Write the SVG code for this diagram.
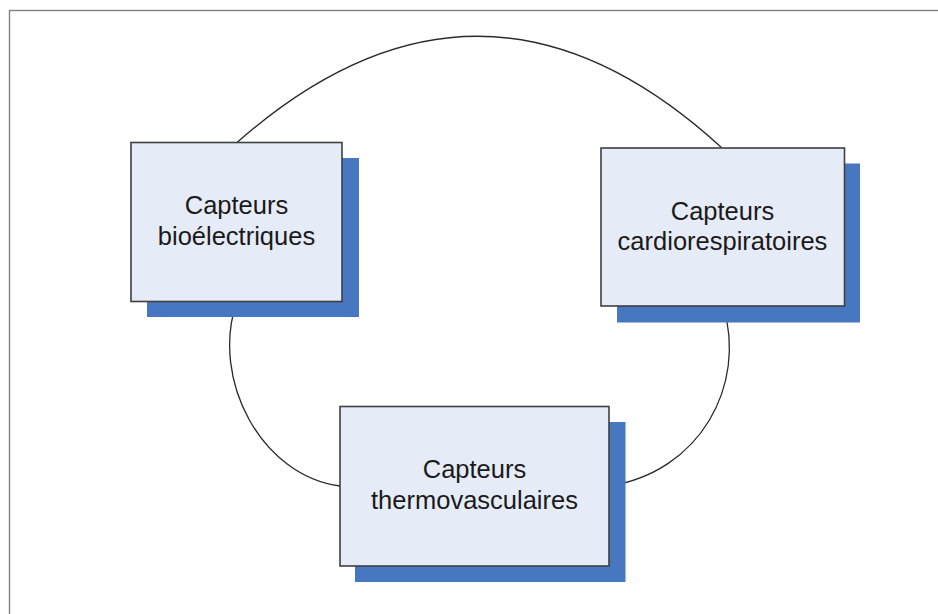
<svg xmlns="http://www.w3.org/2000/svg" width="938" height="614" viewBox="0 0 938 614">
  <style>
    .frame { fill: #ffffff; stroke: #808080; stroke-width: 1.4; }
    .shadow { fill: #4677c0; }
    .box { fill: #e6ecf7; stroke: #3f3f3f; stroke-width: 1.6; }
    .label { font-family: "Liberation Sans", Arial, sans-serif; font-size: 25.5px; fill: #1a1a1a; text-anchor: middle; }
    .conn { fill: none; stroke: #2a2a2a; stroke-width: 1.3; }
  </style>
  <rect x="0" y="0" width="938" height="614" fill="#ffffff"/>
  <rect class="frame" x="9.5" y="10.5" width="960" height="640"/>
  <g id="connectors">
    <path class="conn" d="M237,142.5 Q481,-72.5 721.5,147.5"/>
    <path class="conn" d="M236.7,301.7 C210,380 262,476 340,486"/>
    <path class="conn" d="M723.3,306.7 C747,385 700,472 609,486"/>
  </g>
  <g id="bioelectriques">
    <rect class="shadow" x="147" y="158" width="212" height="159"/>
    <rect class="box" x="131" y="142.5" width="211" height="159"/>
    <text class="label" x="236.5" y="214">Capteurs</text>
    <text class="label" x="236.5" y="245">bioélectriques</text>
  </g>
  <g id="cardiorespiratoires">
    <rect class="shadow" x="617" y="163.5" width="243" height="159"/>
    <rect class="box" x="601" y="148" width="243.5" height="158"/>
    <text class="label" x="722.5" y="220">Capteurs</text>
    <text class="label" x="722.5" y="250">cardiorespiratoires</text>
  </g>
  <g id="thermovasculaires">
    <rect class="shadow" x="355" y="422" width="270.5" height="160"/>
    <rect class="box" x="340" y="406.5" width="269" height="159.5"/>
    <text class="label" x="474.5" y="478">Capteurs</text>
    <text class="label" x="474.5" y="509">thermovasculaires</text>
  </g>
</svg>
